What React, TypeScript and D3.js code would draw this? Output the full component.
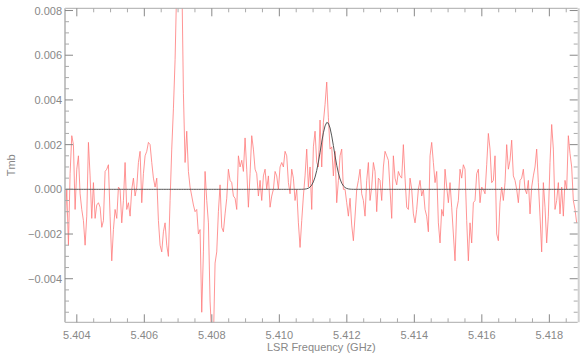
import React from 'react';
import * as d3 from 'd3';

const W = 585;
const H = 355;
const margin = { top: 8.3, right: 7.3, bottom: 32.7, left: 65 };

// spectrum channels: first channel frequency and channel width (GHz)
const freqStart = 5.403653;
const chanWidth = 0.00004937;

// Tmb in mK, one value per channel
const tmbMK = [
  -1.7, 0, -2.5, 0.7, 2.4, 2.0, -0.9, 0.9, 1.5, -0.2, -0.9, -1.4, -2.5, -1.2, 2.1, 0.6, -1.3, 0.3, -1.3, -0.7,
  -0.6, -0.8, -1.7, -1.4, 0.8, 0.9, 1.1, -1.2, -3.2, -1.8, -0.9, -1.3, 0.1, 0, -1.5, -0.5, 1.2, -0.9, -0.6, -1.2,
  0, 0.5, -0.3, 0.1, 1.2, 1.7, -0.6, 0.7, 1.5, 1.7, 2.1,
  2.0, 1.2, 0.5, 0.1, 0.5, -1.4, -2.5, -2.8, -1.9, -1.5, -2.5, -3.0, -0.5, 1.8, 3.6, 5.8, 9.2, 10.4, 11.2, 9.8,
  4.3, 1.2, 2.6, 0.8, 0.1, -0.3, -0.7, -1.0, -0.9, -2.0, -1.8, -5.5, -2.8, 0.8, -0.5, -1.5, -5.0, -6.6, -6.8, -3.3,
  -2.8, -1.0, 0.2, -1.7, -1.9, -1.1, -0.4, 0.9, 0.4, 0.3, -0.3, -0.4,
  -0.9, 1.5, 1.0, 1.3, 0.8, 2.3, 0.9, -0.8, 0.7, 2.4, 1.8, 0.9, 0.7, -0.3, 0.4, -0.5, 0.6, 0.9, 0, 0.6,
  -0.8, -0.3, 0, 0.8, 0.6, 0, 1.0, 1.2, 1.0, 1.7, 1.5, 0.3, -0.2, 0.9, 0.5, -0.5, 0, -1.5, -2.6, -1.4,
  -0.3, 0.6, 1.8, 0.1, 1.0, -0.9, 1.9, 2.6, 1.2, 1.0, 3.1,
  1.0, 3.0, 3.8, 4.8, 3.2, 1.8, 1.9, 0.6, 1.7, -0.6, 0.4, 1.5, 1.8, 0, 0, -0.6, -1.2, -0.4, -1.6, -2.3,
  -1.2, 0, 0.4, 0.9, -0.2, -0.5, -1.2, 0.4, 1.2, -0.5, 0.1, 1.2, 0.8, -1.0, 0.5, 0.4, -0.5, 1.0, 1.7, 1.5,
  1.3, 0, -1.3, 1.5, 0.5, 0.2, 0.8, 0.6, 0.5, 2.0, 0.5, -0.8,
  -0.9, 0.5, 0, -1.1, -1.5, -0.9, 0, 0.4, -0.3, 0, -0.9, -1.2, -1.9, 1.5, 2.1, 1.2, 0.3, 0.8, -1.5, -2.4,
  -0.9, -1.2, 0.9, 0.1, -0.6, 0.3, -0.8, -2.0, -3.2, -0.9, -0.5, 0.9, 0.5, 1.1, 0.9, -1.4, -3.2, -1.5, -2.4, -0.6,
  -0.5, 0.7, 0.9, -0.6, 0.1, 0, -0.2, 1.1, 2.5, 1.8, 0.3, 0.4,
  1.5, -2.0, -2.3, -0.6, 0.1, -0.5, 0.3, 2.0, 0.9, 1.3, 2.2, 0.6, 0.4, 0, -0.6, 0.4, 0.5, 0.9, 0, -0.2,
  0.4, -1.1, 0.1, 0.6, 1.0, 1.8, 0.3, -1.2, -2.8, 0.3, -0.8, -2.4, -1.2, 1.2, 2.9, 1.8, -0.9, -0.5, 0.3, -1.1,
  0.1, -1.2, 0.4, 0, 2.4, 1.6, 1.0, -0.5, -0.9, -1.5,
];

// gaussian fit to the line near 5.4114 GHz
const fitAmpK = 0.003;
const fitCenterGHz = 5.41142;
const fitSigmaGHz = 0.000196;

const xTicks = [5.404, 5.406, 5.408, 5.41, 5.412, 5.414, 5.416, 5.418];
const yTicks = [-0.004, -0.002, 0, 0.002, 0.004, 0.006, 0.008];
const xDomain = [5.40365, 5.41884];
const yDomain = [-0.00595, 0.0081];

const App = () => {
  const x0 = margin.left;
  const x1 = W - margin.right;
  const y0 = margin.top;
  const y1 = H - margin.bottom;

  const xScale = d3.scaleLinear().domain(xDomain).range([x0, x1]);
  const yScale = d3.scaleLinear().domain(yDomain).range([y1, y0]);

  const freqs = tmbMK.map((_, i) => freqStart + i * chanWidth);
  const spec = tmbMK.map((v, i) => [freqs[i], v / 1000]);
  const fit = freqs.map((f) => [f, fitAmpK * Math.exp(-0.5 * ((f - fitCenterGHz) / fitSigmaGHz) ** 2)]);

  const line = d3.line().x((d) => xScale(d[0])).y((d) => yScale(d[1]));

  const xMinor = d3.range(-3, 30).map((i) => 5.404 + i * 0.0005)
    .filter((v) => v >= xDomain[0] && v <= xDomain[1] && Math.abs(((v - 5.404) / 0.002) - Math.round((v - 5.404) / 0.002)) > 0.01);
  const yMinor = d3.range(-11, 17).map((i) => i * 0.0005)
    .filter((v) => v >= yDomain[0] && v <= yDomain[1] && Math.abs(v / 0.002 - Math.round(v / 0.002)) > 0.01);

  const fmt = d3.format('.3f');
  const lab = (v) => fmt(v).replace('-', '\u2212');
  const font = "'Liberation Sans', Arial, sans-serif";
  const major = 8;
  const minor = 4;

  return (
    <svg width={W} height={H} style={{ position: 'absolute', left: 0, top: 0 }} fontFamily={font}>
      <defs>
        <clipPath id="plot">
          <rect x={x0} y={y0} width={x1 - x0} height={y1 - y0} />
        </clipPath>
      </defs>
      <rect width={W} height={H} fill="#fff" />

      <g clipPath="url(#plot)">
        <path d={line(spec)} fill="none" stroke="#ff7a7a" strokeWidth={0.8} />
        <path d={line(fit)} fill="none" stroke="#555" strokeWidth={1} />
      </g>

      {/* frame */}
      <line x1={x0} x2={x1} y1={y0} y2={y0} stroke="#aaa" />
      <line x1={x0} x2={x1} y1={y1} y2={y1} stroke="#aaa" />
      <line x1={x0} x2={x0} y1={y0} y2={y1} stroke="#c4c4c4" strokeWidth={2} />
      <line x1={x1 + 1} x2={x1 + 1} y1={y0} y2={y1} stroke="#d0d0d0" strokeWidth={2} />

      {xTicks.map((t) => (
        <g key={'x' + t} stroke="#888">
          <line x1={xScale(t)} x2={xScale(t)} y1={y1} y2={y1 - major} />
          <line x1={xScale(t)} x2={xScale(t)} y1={y0} y2={y0 + major} />
        </g>
      ))}
      {xMinor.map((t) => (
        <g key={'xm' + t} stroke="#aaa">
          <line x1={xScale(t)} x2={xScale(t)} y1={y1} y2={y1 - minor} />
          <line x1={xScale(t)} x2={xScale(t)} y1={y0} y2={y0 + minor} />
        </g>
      ))}
      {yTicks.map((t) => (
        <g key={'y' + t} stroke="#888">
          <line x1={x0} x2={x0 + major} y1={yScale(t)} y2={yScale(t)} />
          <line x1={x1} x2={x1 - major} y1={yScale(t)} y2={yScale(t)} />
        </g>
      ))}
      {yMinor.map((t) => (
        <g key={'ym' + t} stroke="#aaa">
          <line x1={x0} x2={x0 + minor} y1={yScale(t)} y2={yScale(t)} />
          <line x1={x1} x2={x1 - minor} y1={yScale(t)} y2={yScale(t)} />
        </g>
      ))}

      {xTicks.map((t) => (
        <text key={'xl' + t} x={xScale(t)} y={y1 + 17} textAnchor="middle" fontSize={11} fill="#888">
          {fmt(t)}
        </text>
      ))}
      {yTicks.map((t) => (
        <text key={'yl' + t} x={x0 - 3} y={yScale(t) + 4} textAnchor="end" fontSize={11} fill="#888">
          {lab(t)}
        </text>
      ))}

      <text x={(x0 + x1) / 2} y={H - 4} textAnchor="middle" fontSize={11} fill="#888">
        LSR Frequency (GHz)
      </text>
      <text transform={`translate(15,${(y0 + y1) / 2}) rotate(-90)`} textAnchor="middle" fontSize={11} fill="#888">
        Tmb
      </text>
    </svg>
  );
};

export default App;
